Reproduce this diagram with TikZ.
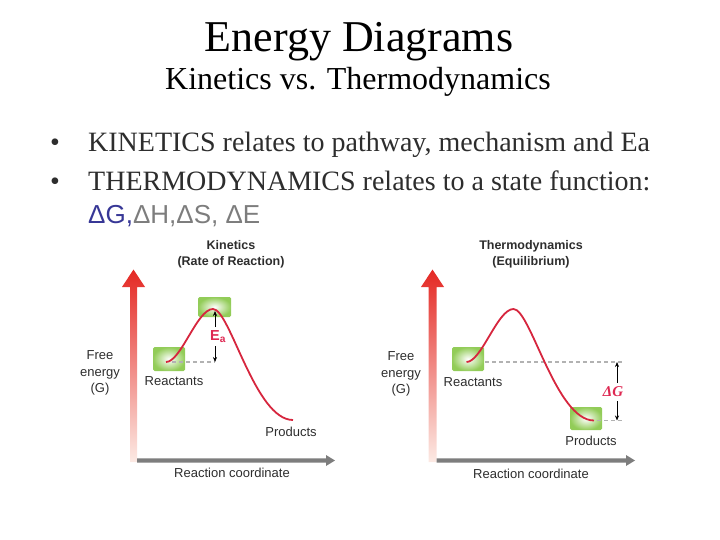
\documentclass[tikz,border=0pt]{standalone}
\usepackage{fontspec}
\setmainfont{Liberation Serif}
\setsansfont{Liberation Sans}
\usepackage{tikz}
\usepackage{xcolor}
\usetikzlibrary{arrows.meta}

\definecolor{curvered}{RGB}{214,38,62}
\definecolor{labelred}{RGB}{222,40,82}
\definecolor{boxgreen}{RGB}{146,204,88}
\definecolor{axisgray}{RGB}{125,125,125}
\definecolor{dashgray}{RGB}{178,178,178}
\definecolor{arrowtop}{RGB}{228,40,36}
\definecolor{arrowmid}{RGB}{240,110,92}
\definecolor{arrowbottom}{RGB}{252,234,228}
\definecolor{figtextgray}{RGB}{45,45,45}
\definecolor{bulletgray}{RGB}{45,45,45}
\definecolor{deltablue}{RGB}{55,55,150}
\definecolor{deltagray}{RGB}{125,125,125}

\tikzset{
  figlabel/.style={font=\sffamily\fontsize{13}{16.5}\selectfont, text=figtextgray, inner sep=0pt, align=center},
  figtitle/.style={font=\sffamily\bfseries\fontsize{12.5}{16}\selectfont, text=figtextgray, inner sep=0pt, align=center},
  energycurve/.style={draw=curvered, line width=1.8pt},
  guideline/.style={draw=dashgray, line width=1.4pt, dash pattern=on 4pt off 3pt},
  gaparrow/.style={-{Stealth[length=5pt,width=4pt]}, line width=0.6pt},
  statebox/.style={inner color=white, outer color=boxgreen, rounded corners=1.5pt},
  redaxis/.style={top color=arrowtop, middle color=arrowmid, bottom color=arrowbottom},
  slideline/.style={anchor=base west, inner sep=0pt, text=bulletgray, font=\fontsize{28}{32}\selectfont},
}

\begin{document}
\begin{tikzpicture}[x=1pt,y=1pt,yscale=-1,xscale=1]
\useasboundingbox (0,0) rectangle (720,540);

% Title
\node[anchor=base, inner sep=0pt, font=\fontsize{44}{46}\selectfont] (title) at (359,52) {Energy Diagrams};
\node[anchor=base, inner sep=0pt, font=\fontsize{32}{34}\selectfont] (subtitle) at (358,90) {Kinetics vs. Thermodynamics};

% Bullets
\node[slideline, anchor=base] (dotone) at (55,152) {•};
\node[slideline] (kinline) at (88,152) {KINETICS relates to pathway, mechanism and Ea};
\node[slideline, anchor=base] (dottwo) at (55,191) {•};
\node[slideline] (thermline) at (88,191) {THERMODYNAMICS relates to a state function:};
\node[slideline, font=\sffamily\fontsize{26}{30}\selectfont] (deltaline) at (88,223) {\textcolor{deltablue}{ΔG,}\textcolor{deltagray}{ΔH,ΔS, ΔE}};

%%%% Kinetics diagram
% Text Node
\node[figtitle] (kintitle) at (231,254) {Kinetics\\(Rate of Reaction)};
%Shape: red axis
\shade[redaxis] (130,462) -- (130,287) -- (122,287) -- (133.5,269.5) -- (145,287) -- (137,287) -- (137,462) -- cycle;
%Shape: gray axis
\fill[axisgray] (137,458.3) -- (326,458.3) -- (326,455) -- (335,460.5) -- (326,466) -- (326,462.7) -- (137,462.7) -- cycle;
% Text Node
\node[figlabel] (kinenergy) at (100,373) {Free\\energy\\(G)};
\node[figlabel] (kincoord) at (232,473) {Reaction coordinate};
%Shape: state boxes
\shade[statebox] (153,347) rectangle (185,371);
\shade[statebox] (198,297) rectangle (231,317);
\coordinate (kinreact) at (166,362);
\coordinate (kinpeak) at (213,309);
\coordinate (kinprod) at (293,420);
\coordinate (kintop) at (215,311);
\coordinate (kinupfrom) at (215,327);
\coordinate (kindownfrom) at (215,346);
\coordinate (kinbase) at (215,362);
%Straight Lines
\draw[guideline] (172,362) -- (kinbase);
%Curve
\draw[energycurve] (kinreact) .. controls (181,362) and (197,309) .. (kinpeak) .. controls (230,309) and (255,420) .. (kinprod);
% Text Node
\node[figlabel, font=\sffamily\bfseries\fontsize{14.5}{16}\selectfont, text=labelred] (ea) at (218,336.5) {E\textsubscript{a}};
\draw[gaparrow] (kinupfrom) -- (kintop);
\draw[gaparrow] (kindownfrom) -- (kinbase);
\node[figlabel] (kinreactlabel) at (174,381) {Reactants};
\node[figlabel] (kinprodlabel) at (291,432) {Products};

%%%% Thermodynamics diagram
% Text Node
\node[figtitle] (thermtitle) at (531,254) {Thermodynamics\\(Equilibrium)};
%Shape: red axis
\shade[redaxis] (428.5,462) -- (428.5,287) -- (421,287) -- (432.5,269.5) -- (444,287) -- (436.5,287) -- (436.5,462) -- cycle;
%Shape: gray axis
\fill[axisgray] (436.5,458.3) -- (626,458.3) -- (626,455) -- (635,460.5) -- (626,466) -- (626,462.7) -- (436.5,462.7) -- cycle;
% Text Node
\node[figlabel] (thermenergy) at (401,374) {Free\\energy\\(G)};
\node[figlabel] (thermcoord) at (531,474) {Reaction coordinate};
%Shape: state boxes
\shade[statebox] (452,347) rectangle (484,371);
\shade[statebox] (570,407) rectangle (602,430);
\coordinate (thermreact) at (466.5,362);
\coordinate (thermpeak) at (513.5,309);
\coordinate (thermprod) at (594,420.5);
\coordinate (thermtop) at (617,362);
\coordinate (thermupfrom) at (617,383);
\coordinate (thermdownfrom) at (617,401);
\coordinate (thermbottom) at (617,420.5);
%Straight Lines
\draw[guideline] (485,362) -- (623,362);
\draw[guideline] (597,420.5) -- (623,420.5);
%Curve
\draw[energycurve] (thermreact) .. controls (481.5,362) and (497.5,309) .. (thermpeak) .. controls (530.5,309) and (556,420.5) .. (thermprod);
% Text Node
\node[figlabel, font=\bfseries\itshape\fontsize{15}{16}\selectfont, text=labelred] (dg) at (613,392) {ΔG};
\draw[gaparrow] (thermupfrom) -- (thermtop);
\draw[gaparrow] (thermdownfrom) -- (thermbottom);
\node[figlabel] (thermreactlabel) at (473,382) {Reactants};
\node[figlabel] (thermprodlabel) at (591,441) {Products};
\end{tikzpicture}
\end{document}
